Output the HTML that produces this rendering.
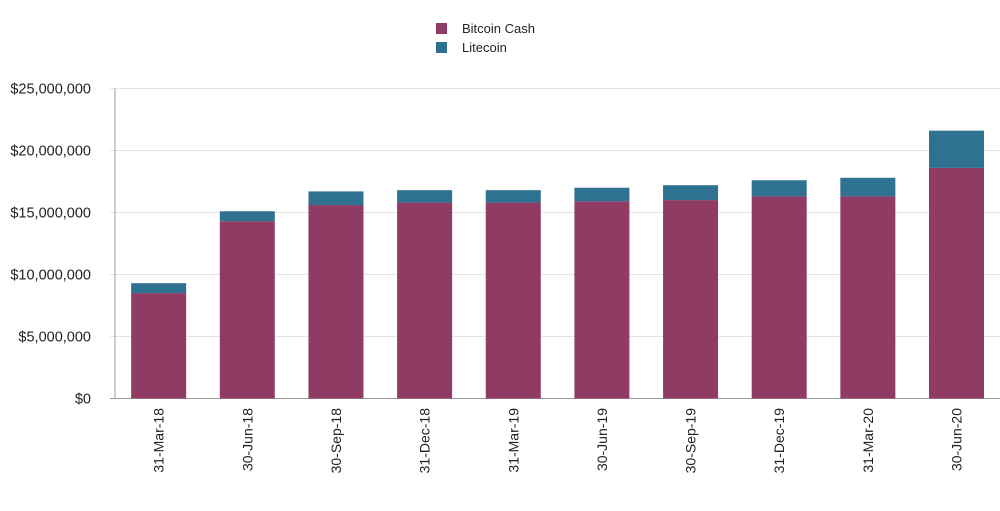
<!DOCTYPE html>
<html><head><meta charset="utf-8"><style>
body{margin:0;background:#fff;width:1000px;height:511px;overflow:hidden}
svg{display:block;font-family:"Liberation Sans",sans-serif}
</style></head><body>
<svg id="chart" width="1000" height="511">
<g>
<rect x="436" y="23" width="11" height="11" fill="#8f3b63"/>
<text x="462" y="33" font-size="13" fill="#222">Bitcoin Cash</text>
<rect x="436" y="42" width="11" height="11" fill="#2e7190"/>
<text x="462" y="52" font-size="13" fill="#222">Litecoin</text>
</g>
</svg>
<script>
const categories=["31-Mar-18","30-Jun-18","30-Sep-18","31-Dec-18","31-Mar-19","30-Jun-19","30-Sep-19","31-Dec-19","31-Mar-20","30-Jun-20"];
const bitcoinCash=[8.5,14.3,15.6,15.8,15.8,15.9,16.0,16.3,16.3,18.6];
const litecoin=[0.8,0.8,1.1,1.0,1.0,1.1,1.2,1.3,1.5,3.0];
const yTicks=[0,5,10,15,20,25];
const yTickLabels=["$0","$5,000,000","$10,000,000","$15,000,000","$20,000,000","$25,000,000"];
const NS="http://www.w3.org/2000/svg";
const svg=document.getElementById('chart');
const x0=115,x1=1000,yBase=398.5,yTop=88.5,yMax=25;
const y=v=>yBase-(v/yMax)*(yBase-yTop);
const step=(x1-x0)/categories.length;
const bw=55;
const xc=i=>x0+step*(i+0.5)+(i*0.15-0.6);
function mk(t,a){const e=document.createElementNS(NS,t);for(const k in a)e.setAttribute(k,a[k]);svg.appendChild(e);return e;}
yTicks.forEach((v,i)=>{
  const g=mk('line',{x1:x0-5,x2:x1,y1:y(v),y2:y(v),stroke:v===0?'#999':'#e4e4e4','stroke-width':1});
  
  
  const t=mk('text',{x:91,y:y(v)+5,'text-anchor':'end','font-size':14.5,fill:'#222'});
  t.textContent=yTickLabels[i];
  
  
});
const ax=mk('line',{x1:x0,x2:x0,y1:yTop,y2:yBase,stroke:'#999'});


categories.forEach((c,i)=>{
  const cx=xc(i);
  const b=mk('rect',{x:cx-bw/2,y:y(bitcoinCash[i]),width:bw,height:yBase-y(bitcoinCash[i]),fill:'#8f3b63'});
  
  
  const tot=bitcoinCash[i]+litecoin[i];
  const l=mk('rect',{x:cx-bw/2,y:y(tot),width:bw,height:y(bitcoinCash[i])-y(tot),fill:'#2e7190'});
  
  
  const t=mk('text',{x:cx+5,y:408,'text-anchor':'end','font-size':14,fill:'#222',transform:`rotate(-90 ${cx+5} 408)`});
  t.textContent=c;
  
  
});
</script>
</body></html>
